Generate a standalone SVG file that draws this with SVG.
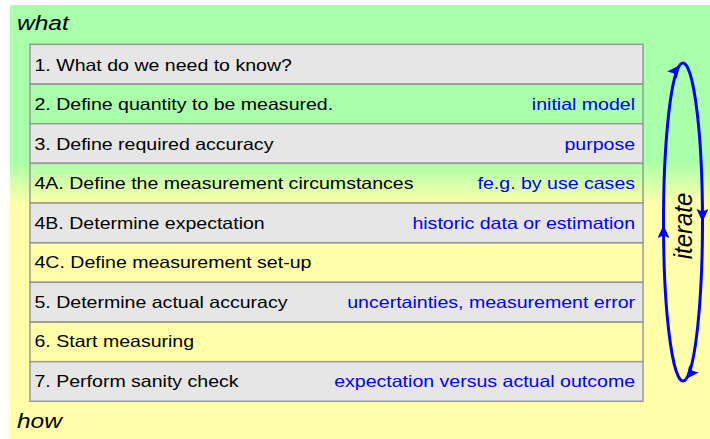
<svg xmlns="http://www.w3.org/2000/svg" width="710" height="439" viewBox="0 0 710 439">
<defs>
<linearGradient id="bg" x1="0" y1="0" x2="0" y2="1">
<stop offset="0" stop-color="#aaffaa"/>
<stop offset="0.36" stop-color="#aaffaa"/>
<stop offset="0.46" stop-color="#ffffaa"/>
<stop offset="1" stop-color="#ffffaa"/>
</linearGradient>
<marker id="ah" markerUnits="userSpaceOnUse" markerWidth="15" markerHeight="13" refX="13" refY="6" orient="auto">
<path d="M0,0 L13,6 L0,12 L2.5,6 z" fill="#0000ff"/>
</marker>
<style>
.row{stroke:#999999;stroke-width:1.5}
.g{fill:#e6e6e6}
.t{fill:none}
.lbl{font-family:"Liberation Sans",Arial,sans-serif;font-size:16.5px;fill:#000000}
.note{font-family:"Liberation Sans",Arial,sans-serif;font-size:16.5px;fill:#0000ff;text-anchor:end}
.side{font-family:"Liberation Sans",Arial,sans-serif;font-size:21px;font-style:italic;fill:#000000}
.arc{fill:none;stroke:#0000ff;stroke-width:3;marker-end:url(#ah)}
</style>
</defs>
<rect id="background" x="10" y="5" width="700" height="434" fill="url(#bg)"/>
<text class="side" transform="scale(1.17,1)" x="14.5" y="30">what</text>
<text class="side" transform="scale(1.17,1)" x="14.5" y="428">how</text>

<g id="step1">
<rect class="row g" x="30" y="44.3" width="613" height="39.7"/>
<text class="lbl" transform="scale(1.185,1)" x="29.1" y="71">1. What do we need to know?</text>
</g>
<g id="step2">
<rect class="row t" x="30" y="84" width="613" height="39.7"/>
<text class="lbl" transform="scale(1.185,1)" x="29.1" y="110.5">2. Define quantity to be measured.</text>
<text class="note" transform="scale(1.185,1)" x="535.9" y="110.5">initial model</text>
</g>
<g id="step3">
<rect class="row g" x="30" y="123.7" width="613" height="39.6"/>
<text class="lbl" transform="scale(1.185,1)" x="29.1" y="150">3. Define required accuracy</text>
<text class="note" transform="scale(1.185,1)" x="535.9" y="150">purpose</text>
</g>
<g id="step4A">
<rect class="row t" x="30" y="163.3" width="613" height="39.7"/>
<text class="lbl" transform="scale(1.185,1)" x="29.1" y="189.5">4A. Define the measurement circumstances</text>
<text class="note" transform="scale(1.185,1)" x="535.9" y="189.5">fe.g. by use cases</text>
</g>
<g id="step4B">
<rect class="row g" x="30" y="203" width="613" height="39.7"/>
<text class="lbl" transform="scale(1.185,1)" x="29.1" y="229">4B. Determine expectation</text>
<text class="note" transform="scale(1.185,1)" x="535.9" y="229">historic data or estimation</text>
</g>
<g id="step4C">
<rect class="row t" x="30" y="242.7" width="613" height="39.6"/>
<text class="lbl" transform="scale(1.185,1)" x="29.1" y="268.5">4C. Define measurement set-up</text>
</g>
<g id="step5">
<rect class="row g" x="30" y="282.3" width="613" height="39.7"/>
<text class="lbl" transform="scale(1.185,1)" x="29.1" y="308">5. Determine actual accuracy</text>
<text class="note" transform="scale(1.185,1)" x="535.9" y="308">uncertainties, measurement error</text>
</g>
<g id="step6">
<rect class="row t" x="30" y="322" width="613" height="39.7"/>
<text class="lbl" transform="scale(1.185,1)" x="29.1" y="347.5">6. Start measuring</text>
</g>
<g id="step7">
<rect class="row g" x="30" y="361.7" width="613" height="39.6"/>
<text class="lbl" transform="scale(1.185,1)" x="29.1" y="387">7. Perform sanity check</text>
<text class="note" transform="scale(1.185,1)" x="535.9" y="387">expectation versus actual outcome</text>
</g>

<g id="iterate">
<text class="side" transform="translate(692,226) rotate(-90) scale(1,1.1)" text-anchor="middle" style="font-size:24px">iterate</text>
</g>

<g id="connectors">
<path class="arc" d="M679.95,64.9 A19.5,159 0 0 1 702.5,222"/>
<path class="arc" d="M702.5,222 A19.5,159 0 0 1 686.05,379.1"/>
<path class="arc" d="M686.05,379.1 A19.5,159 0 0 1 663.5,225"/>
<path class="arc" d="M663.5,225 A19.5,159 0 0 1 679.95,64.9"/>
</g>
</svg>
